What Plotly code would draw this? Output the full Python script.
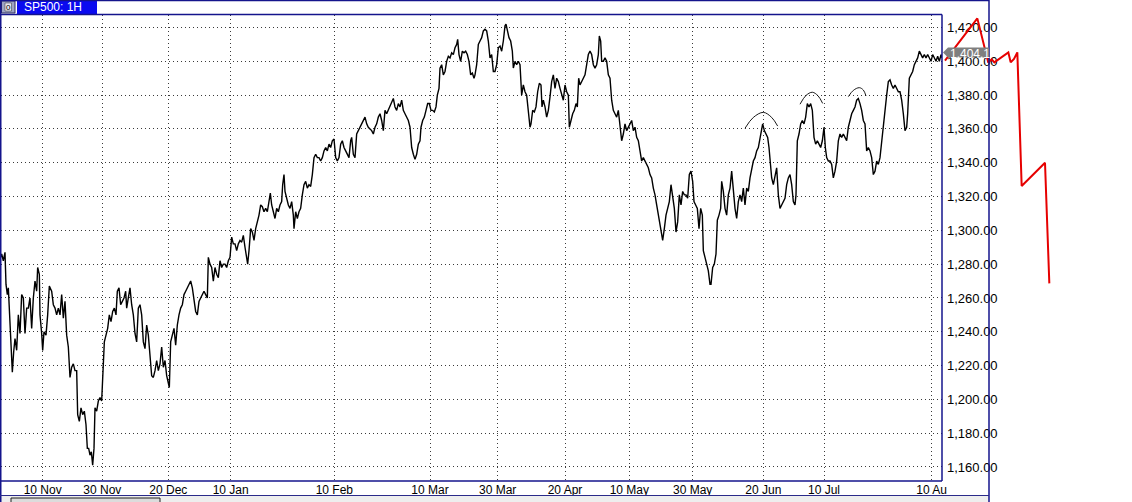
import plotly.graph_objects as go

# ---------------- data (hourly bar index, price) ----------------
bars_nov_jan = [0, 5, 10, 15, 18, 22, 25, 28, 32, 35, 37, 41, 45, 50, 55, 60, 65, 70, 75, 80, 85, 90, 95, 100, 105, 110, 113, 118, 120, 125, 128, 132, 138, 143, 148, 155, 160, 165, 170, 175, 180, 185, 190, 195, 200, 205, 210, 215, 220, 225, 230, 233, 238, 243, 248, 253, 258, 262, 266, 270, 274, 278, 282, 285, 290, 295, 300, 305, 309, 313, 318, 323, 328, 333, 338, 343, 348, 352, 357, 362, 367, 372, 377, 380, 385, 390, 395, 400, 405, 410, 415, 420, 425, 430, 435, 440, 445, 450, 455, 460, 465, 470, 475, 480, 485, 490, 495, 500, 505, 508, 512, 517, 522, 527, 532, 537, 542, 547, 552, 557, 562, 567, 572, 577, 582, 587, 592, 597, 602, 607, 612, 617, 622, 625, 630, 635, 640, 645, 650, 655, 660, 665, 670, 675, 680, 685, 690, 695, 700, 705, 710, 715, 720]
price_nov_jan = [1283, 1286, 1282, 1287, 1268, 1262, 1266, 1253, 1230, 1222, 1216, 1228, 1236, 1229, 1250, 1239, 1262, 1260, 1239, 1254, 1254, 1260, 1242, 1260, 1270, 1264, 1278, 1274, 1250, 1239, 1229, 1240, 1238, 1250, 1267, 1264, 1256, 1254, 1250, 1254, 1250, 1262, 1248, 1258, 1238, 1231, 1213, 1219, 1221, 1217, 1217, 1191, 1187, 1195, 1191, 1193, 1185, 1171, 1171, 1167, 1169, 1161, 1171, 1195, 1193, 1199, 1201, 1199, 1214, 1234, 1238, 1242, 1250, 1246, 1252, 1254, 1250, 1264, 1266, 1256, 1258, 1260, 1264, 1254, 1260, 1266, 1256, 1250, 1239, 1234, 1254, 1256, 1250, 1234, 1230, 1244, 1238, 1225, 1214, 1213, 1217, 1223, 1217, 1221, 1231, 1219, 1223, 1214, 1209, 1207, 1234, 1238, 1242, 1232, 1244, 1250, 1254, 1256, 1262, 1264, 1266, 1268, 1270, 1266, 1258, 1252, 1250, 1258, 1260, 1262, 1264, 1262, 1260, 1284, 1280, 1278, 1270, 1278, 1274, 1272, 1282, 1278, 1280, 1280, 1278, 1282, 1284, 1296, 1292, 1292, 1288, 1292, 1294]

bars_jan_mar = [725, 730, 735, 740, 743, 747, 752, 757, 762, 767, 772, 777, 782, 787, 792, 797, 802, 807, 811, 815, 820, 825, 830, 835, 840, 845, 848, 852, 855, 860, 865, 870, 875, 880, 882, 887, 892, 897, 902, 907, 912, 917, 922, 927, 932, 937, 942, 947, 952, 957, 962, 967, 972, 977, 982, 987, 992, 997, 1002, 1007, 1012, 1017, 1022, 1027, 1032, 1037, 1042, 1047, 1052, 1055, 1060, 1065, 1070, 1075, 1080, 1085, 1090, 1095, 1100, 1105, 1110, 1115, 1120, 1125, 1130, 1135, 1140, 1145, 1150, 1155, 1160, 1165, 1170, 1175, 1180, 1185, 1190, 1195, 1200, 1205, 1210, 1215, 1220, 1225, 1230, 1235, 1240, 1245, 1250, 1255, 1260, 1263, 1268, 1273, 1278, 1283, 1288, 1293, 1298, 1303, 1308, 1312, 1317, 1320, 1325, 1330, 1335, 1340, 1345, 1350, 1355, 1360, 1365, 1370, 1373, 1377, 1382, 1387, 1392, 1397, 1402, 1407, 1412, 1417, 1422, 1425]
price_jan_mar = [1293, 1297, 1290, 1282, 1280, 1288, 1301, 1299, 1294, 1301, 1305, 1309, 1315, 1314, 1311, 1313, 1311, 1317, 1322, 1315, 1311, 1307, 1313, 1311, 1315, 1317, 1327, 1333, 1323, 1319, 1315, 1313, 1317, 1309, 1301, 1311, 1307, 1311, 1313, 1321, 1327, 1329, 1325, 1327, 1326, 1333, 1343, 1345, 1343, 1343, 1341, 1343, 1347, 1349, 1347, 1351, 1349, 1353, 1354, 1343, 1341, 1343, 1351, 1353, 1349, 1347, 1345, 1343, 1353, 1355, 1345, 1343, 1357, 1359, 1361, 1363, 1365, 1367, 1363, 1361, 1360, 1359, 1357, 1361, 1363, 1367, 1369, 1365, 1359, 1371, 1369, 1371, 1373, 1375, 1378, 1373, 1371, 1375, 1373, 1377, 1371, 1369, 1367, 1365, 1361, 1349, 1345, 1342, 1345, 1351, 1353, 1361, 1365, 1367, 1371, 1375, 1375, 1371, 1371, 1370, 1373, 1380, 1384, 1396, 1398, 1392, 1394, 1400, 1403, 1402, 1405, 1404, 1408, 1410, 1413, 1404, 1400, 1406, 1405, 1406, 1404, 1400, 1392, 1393, 1390, 1392]

bars_mar_may = [1430, 1435, 1440, 1445, 1450, 1455, 1460, 1465, 1470, 1475, 1480, 1485, 1490, 1495, 1500, 1505, 1510, 1515, 1518, 1522, 1527, 1532, 1537, 1540, 1545, 1550, 1555, 1560, 1565, 1570, 1575, 1580, 1585, 1590, 1593, 1598, 1603, 1608, 1613, 1618, 1623, 1626, 1630, 1635, 1640, 1645, 1650, 1655, 1660, 1665, 1670, 1675, 1680, 1685, 1690, 1695, 1700, 1705, 1708, 1713, 1718, 1723, 1728, 1732, 1736, 1740, 1745, 1750, 1755, 1760, 1765, 1770, 1775, 1780, 1785, 1790, 1795, 1798, 1802, 1805, 1810, 1815, 1820, 1825, 1830, 1835, 1840, 1845, 1850, 1855, 1860, 1865, 1870, 1875, 1880, 1885, 1890, 1895, 1900, 1905, 1910, 1915, 1920, 1925, 1930, 1935, 1940, 1945, 1950, 1955, 1960, 1965, 1970, 1975, 1980, 1985, 1988, 1993, 1998, 2003, 2008, 2013, 2018, 2023, 2028, 2033, 2038, 2043, 2048, 2053, 2058, 2063, 2068, 2073, 2078, 2082, 2087, 2092, 2097, 2102, 2107, 2110, 2115, 2120, 2125, 2130]
price_mar_may = [1398, 1410, 1412, 1414, 1418, 1419, 1418, 1412, 1402, 1404, 1394, 1394, 1398, 1408, 1409, 1406, 1412, 1421, 1422, 1418, 1414, 1412, 1406, 1396, 1400, 1398, 1400, 1398, 1380, 1386, 1382, 1380, 1371, 1361, 1363, 1371, 1370, 1373, 1382, 1387, 1386, 1373, 1377, 1373, 1367, 1371, 1379, 1388, 1392, 1384, 1390, 1388, 1384, 1380, 1377, 1386, 1382, 1380, 1361, 1365, 1369, 1371, 1375, 1373, 1390, 1386, 1388, 1390, 1392, 1398, 1404, 1406, 1404, 1398, 1396, 1398, 1404, 1415, 1412, 1400, 1400, 1402, 1400, 1392, 1390, 1377, 1371, 1369, 1367, 1371, 1363, 1353, 1357, 1363, 1359, 1361, 1363, 1365, 1359, 1361, 1355, 1353, 1347, 1341, 1343, 1341, 1339, 1337, 1333, 1331, 1325, 1321, 1315, 1309, 1305, 1299, 1294, 1301, 1309, 1313, 1317, 1327, 1321, 1313, 1299, 1305, 1321, 1315, 1323, 1321, 1321, 1319, 1333, 1335, 1329, 1317, 1315, 1313, 1301, 1313, 1309, 1288, 1284, 1280, 1276, 1268]

bars_may_aug = [2133, 2138, 2143, 2148, 2152, 2157, 2162, 2165, 2170, 2175, 2180, 2185, 2190, 2195, 2200, 2205, 2210, 2215, 2220, 2225, 2230, 2235, 2240, 2245, 2250, 2255, 2260, 2265, 2270, 2275, 2280, 2285, 2288, 2293, 2298, 2303, 2307, 2310, 2315, 2320, 2325, 2330, 2335, 2340, 2345, 2350, 2355, 2360, 2365, 2370, 2375, 2380, 2385, 2388, 2392, 2397, 2402, 2407, 2412, 2417, 2422, 2427, 2432, 2437, 2442, 2447, 2452, 2457, 2462, 2467, 2472, 2476, 2480, 2485, 2490, 2495, 2500, 2505, 2510, 2515, 2520, 2525, 2530, 2535, 2540, 2545, 2550, 2555, 2560, 2565, 2570, 2575, 2580, 2585, 2590, 2595, 2600, 2605, 2610, 2615, 2620, 2625, 2630, 2635, 2640, 2645, 2650, 2655, 2660, 2665, 2670, 2675, 2680, 2685, 2690, 2695, 2700, 2705, 2710, 2715, 2720, 2723, 2728, 2733, 2738, 2743, 2748, 2753, 2758, 2763, 2768, 2773, 2778, 2783, 2788, 2793, 2798, 2803, 2808, 2813, 2818, 2823, 2826]
price_may_aug = [1268, 1278, 1280, 1286, 1306, 1309, 1313, 1329, 1323, 1313, 1309, 1321, 1325, 1335, 1321, 1313, 1307, 1317, 1321, 1317, 1325, 1315, 1325, 1323, 1331, 1337, 1341, 1343, 1347, 1349, 1355, 1361, 1363, 1359, 1357, 1355, 1349, 1341, 1331, 1327, 1333, 1337, 1321, 1313, 1315, 1317, 1319, 1327, 1331, 1333, 1327, 1317, 1315, 1321, 1353, 1357, 1363, 1365, 1363, 1367, 1375, 1373, 1375, 1371, 1355, 1351, 1353, 1351, 1349, 1353, 1361, 1349, 1343, 1341, 1341, 1339, 1331, 1335, 1341, 1353, 1357, 1355, 1357, 1355, 1353, 1361, 1365, 1369, 1371, 1373, 1377, 1378, 1375, 1371, 1365, 1363, 1347, 1349, 1347, 1343, 1333, 1335, 1341, 1339, 1343, 1353, 1361, 1373, 1380, 1388, 1389, 1386, 1384, 1386, 1384, 1382, 1382, 1377, 1369, 1359, 1361, 1369, 1390, 1392, 1394, 1398, 1400, 1402, 1406, 1404, 1402, 1404, 1402, 1404, 1402, 1400, 1404, 1402, 1400, 1403, 1400, 1404, 1402]

# hand-drawn arcs over the three peaks
arc1_bar = [2235, 2260, 2290, 2315, 2333]
arc1_price = [1360.4, 1366.8, 1369.8, 1366.8, 1361.7]
arc2_bar = [2400, 2418, 2437, 2454, 2468]
arc2_price = [1374.6, 1379.8, 1381.7, 1379.6, 1375.1]
arc3_bar = [2545, 2560, 2578, 2590, 2598]
arc3_price = [1379.1, 1382.8, 1384.4, 1383.0, 1379.5]

# red hand-drawn projection
proj_bar = [2835, 2932, 2965, 2975, 2983, 2995, 3025, 3032, 3042, 3052, 3055, 3060, 3065, 3135, 3138, 3142, 3145, 3148]
proj_price = [1400.4, 1425.4, 1399.2, 1401.2, 1399.4, 1401.2, 1405.3, 1399.4, 1401.4, 1405.3, 1389.0, 1357.4, 1326.2, 1340.0, 1321.9, 1304.1, 1285.4, 1268.6]

# axis ticks
date_bars = [128, 307, 505, 692, 1003, 1290, 1493, 1695, 1888, 2078, 2290, 2472, 2795]
date_labels = ["10 Nov", "30 Nov", "20 Dec", "10 Jan", "10 Feb", "10 Mar", "30 Mar",
               "20 Apr", "10 May", "30 May", "20 Jun", "10 Jul", "10 Au"]
price_ticks = [1160, 1180, 1200, 1220, 1240, 1260, 1280, 1300, 1320, 1340, 1360, 1380, 1400, 1420]
last_price_label = "1,404.1"
last_price = 1404.17
title_text = "SP500: 1H"

# ---------------- figure ----------------
W, H = 1132, 502
T, B = 15, 21
PLOT_RIGHT = 942
FRAME_RIGHT = 989
NAVY = "#14148c"
FONT = "Liberation Sans"
TICKFONT = "Liberation Sans Narrow, Liberation Sans, Arial, sans-serif"

def px(x):
    return x / W

def py(y):
    return (H - B - y) / (H - T - B)

bars = bars_nov_jan + bars_jan_mar + bars_mar_may + bars_may_aug
prices = price_nov_jan + price_jan_mar + price_mar_may + price_may_aug

fig = go.Figure()
fig.add_trace(go.Scatter(x=bars, y=prices, mode="lines",
                         line=dict(color="black", width=1.4),
                         hoverinfo="skip", showlegend=False))
for ab, ap in [(arc1_bar, arc1_price), (arc2_bar, arc2_price), (arc3_bar, arc3_price)]:
    fig.add_trace(go.Scatter(x=ab, y=ap, mode="lines",
                             line=dict(color="black", width=0.9, shape="spline"),
                             hoverinfo="skip", showlegend=False))
fig.add_trace(go.Scatter(x=proj_bar, y=proj_price, mode="lines",
                         line=dict(color="#e60000", width=2),
                         xaxis="x2", yaxis="y2",
                         hoverinfo="skip", showlegend=False))

y_range = [1151.7, 1427.4]
scale = 3.0  # bars per pixel
x0 = 1 * scale
fig.update_layout(
    width=W, height=H,
    margin=dict(l=0, r=0, t=T, b=B, pad=0),
    paper_bgcolor="white",
    plot_bgcolor="rgba(0,0,0,0)",
    font=dict(family=FONT, size=11, color="black"),
    showlegend=False,
    xaxis=dict(domain=[px(1), px(PLOT_RIGHT)],
               range=[x0, PLOT_RIGHT * scale],
               tickmode="array", tickvals=date_bars, ticktext=date_labels,
               showgrid=True, gridcolor="#3a3a3a", gridwidth=1, griddash="1px,3px",
               zeroline=False, showline=False, ticks="", ticklen=0,
               tickfont=dict(family=TICKFONT, size=12, color="black"),
               automargin=False, fixedrange=True),
    yaxis=dict(domain=[0, 1], range=y_range, side="right", anchor="x",
               tickmode="array", tickvals=price_ticks, tickformat=",.2f",
               showgrid=True, gridcolor="#3a3a3a", gridwidth=1, griddash="1px,3px",
               zeroline=False, showline=False, ticks="", ticklabelstandoff=4,
               tickfont=dict(family=TICKFONT, size=13, color="black"),
               automargin=False, fixedrange=True),
    xaxis2=dict(domain=[px(1), 1], range=[x0, W * scale], anchor="y2",
                visible=False, showgrid=False, fixedrange=True),
    yaxis2=dict(domain=[0, 1], range=y_range, anchor="x2",
                visible=False, showgrid=False, fixedrange=True),
)

shapes = []
def line(x0p, y0p, x1p, y1p, color=NAVY, width=1.5):
    shapes.append(dict(type="line", xref="paper", yref="paper",
                       x0=px(x0p), y0=py(y0p), x1=px(x1p), y1=py(y1p),
                       line=dict(color=color, width=width), layer="above"))

def rect(x0p, y0p, x1p, y1p, fill, color=None, width=0):
    shapes.append(dict(type="rect", xref="paper", yref="paper",
                       x0=px(x0p), y0=py(y0p), x1=px(x1p), y1=py(y1p),
                       fillcolor=fill, line=dict(color=color or fill, width=width),
                       layer="above"))

# bottom grey strip and scrollbar
rect(1, 496, FRAME_RIGHT, 503, "#eeeeee")
rect(11, 498, 160, 504, "#dcdcdc", "#202020", 1)
# title bar
rect(17, 0, 97, 14, "#0a0af0")
rect(1.5, 1, 15, 13, "#9ea4c4", "#303060", 1)
rect(5, 3, 11.5, 11, "#e8e8f0", "#303030", 0.5)
# frames
line(0.75, 0, 0.75, H)
line(0, 0.5, FRAME_RIGHT, 0.5)
line(FRAME_RIGHT, 0, FRAME_RIGHT, H)
line(0, 14.5, PLOT_RIGHT, 14.5)
line(PLOT_RIGHT, 14.5, PLOT_RIGHT, 481)
line(0, 481, PLOT_RIGHT, 481)
line(0, 495.5, FRAME_RIGHT, 495.5, color="#2a2a8a", width=1)
# last price tag arrow
tag_y0, tag_y1 = 47.5, 57.5
shapes.append(dict(type="path", xref="paper", yref="paper",
                   path=f"M {px(943)} {py(52.5)} L {px(948)} {py(tag_y0)} L {px(989)} {py(tag_y0)} "
                        f"L {px(989)} {py(tag_y1)} L {px(948)} {py(tag_y1)} Z",
                   fillcolor="#7f7f7f", line=dict(width=0), layer="above"))
fig.update_layout(shapes=shapes)

fig.add_annotation(xref="paper", yref="paper", x=px(22), y=py(7), xanchor="left", yanchor="middle",
                   text=title_text, showarrow=False,
                   font=dict(family=FONT, size=12, color="white"))
fig.add_annotation(xref="paper", yref="paper", x=px(8.25), y=py(7), xanchor="center", yanchor="middle",
                   text="0", showarrow=False,
                   font=dict(family=FONT, size=8, color="black"))
fig.add_annotation(xref="paper", yref="y", x=px(948), y=last_price, xanchor="left", yanchor="middle",
                   text=last_price_label, showarrow=False,
                   font=dict(family=TICKFONT, size=12, color="white"))

fig.write_html("out.html", config={"displayModeBar": False},
               post_script="document.body.style.margin='0px';document.body.style.overflow='hidden';")
